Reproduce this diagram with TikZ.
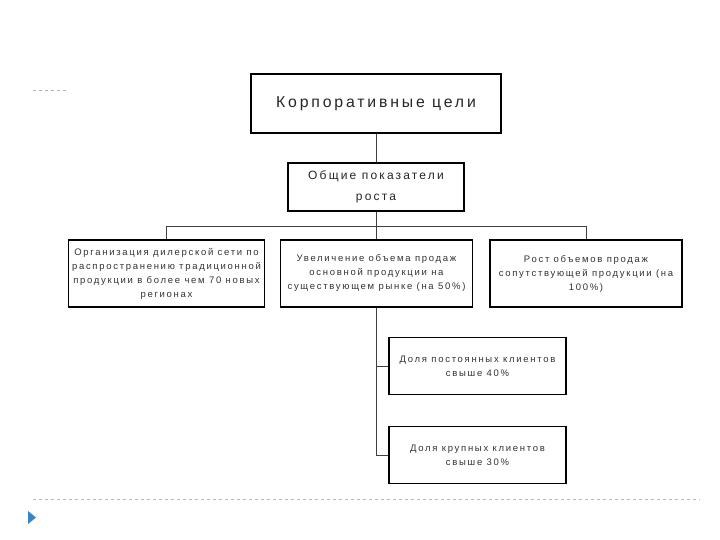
\documentclass[tikz,border=0pt]{standalone}
\usepackage{fontspec}
\setmainfont{Liberation Sans}
\newfontfamily\widefont[LetterSpace=18]{Liberation Sans}
\usetikzlibrary{positioning}

\begin{document}
\begin{tikzpicture}[x=1pt, y=-1pt,
            goal/.style={draw=black, line width=1.8pt, fill=white, text=black!85, align=center, font=\widefont\fontsize{15.8}{18}\selectfont, minimum width=250pt, minimum height=59pt},
            general/.style={draw=black, line width=1.5pt, fill=white, text=black!85, align=center, font=\widefont\fontsize{12}{21}\selectfont, minimum width=176pt, minimum height=48pt},
            task/.style={draw=black, line width=1.5pt, fill=white, text=black!80, align=center, font=\widefont\fontsize{9.5}{14}\selectfont, minimum width=192pt, minimum height=67pt},
            share/.style={task, minimum width=177pt, minimum height=57pt},
            link/.style={draw=black!75, line width=0.8pt}
        ]
        \useasboundingbox (0,0) rectangle (720,540);

        % slide decoration
        \draw[gray!60, dashed, line width=0.6pt] (33,90) -- (68,90);
        \draw[blue!15!gray!50, dashed, line width=0.8pt] (33,499) -- (700,499);
        \fill[blue!45!cyan!60!gray] (28,511) -- (36,517.5) -- (28,524) -- cycle;

        % tree
        \node[goal] (corp) at (376,103.5) {Корпоративные цели};
        \node[general] (gen) at (376,187) {Общие показатели\\роста};
        \node[task] (org) at (166.5,273.5) {Организация дилерской сети по\\распространению традиционной\\продукции в более чем 70 новых\\регионах};
        \node[task] (mid) at (376.5,273.5) {Увеличение объема продаж\\основной продукции на\\существующем рынке (на 50\%)};
        \node[task] (grow) at (586,273.5) {Рост объемов продаж\\сопутствующей продукции (на\\100\%)};
        \node[share] (loyal) at (477.5,366) {Доля постоянных клиентов\\свыше 40\%};
        \node[share] (big) at (477.5,455) {Доля крупных клиентов\\свыше 30\%};

        \coordinate (bus) at (376,226);
        \draw[link] (corp) -- (gen);
        \draw[link] (gen) -- (bus);
        \draw[link] (bus) -| (org);
        \draw[link] (bus) -| (grow);
        \draw[link] (bus) -- (bus |- mid.north);
        \draw[link] (bus |- mid.south) |- (loyal.west);
        \draw[link] (bus |- mid.south) |- (big.west);
        \end{tikzpicture}
\end{document}
